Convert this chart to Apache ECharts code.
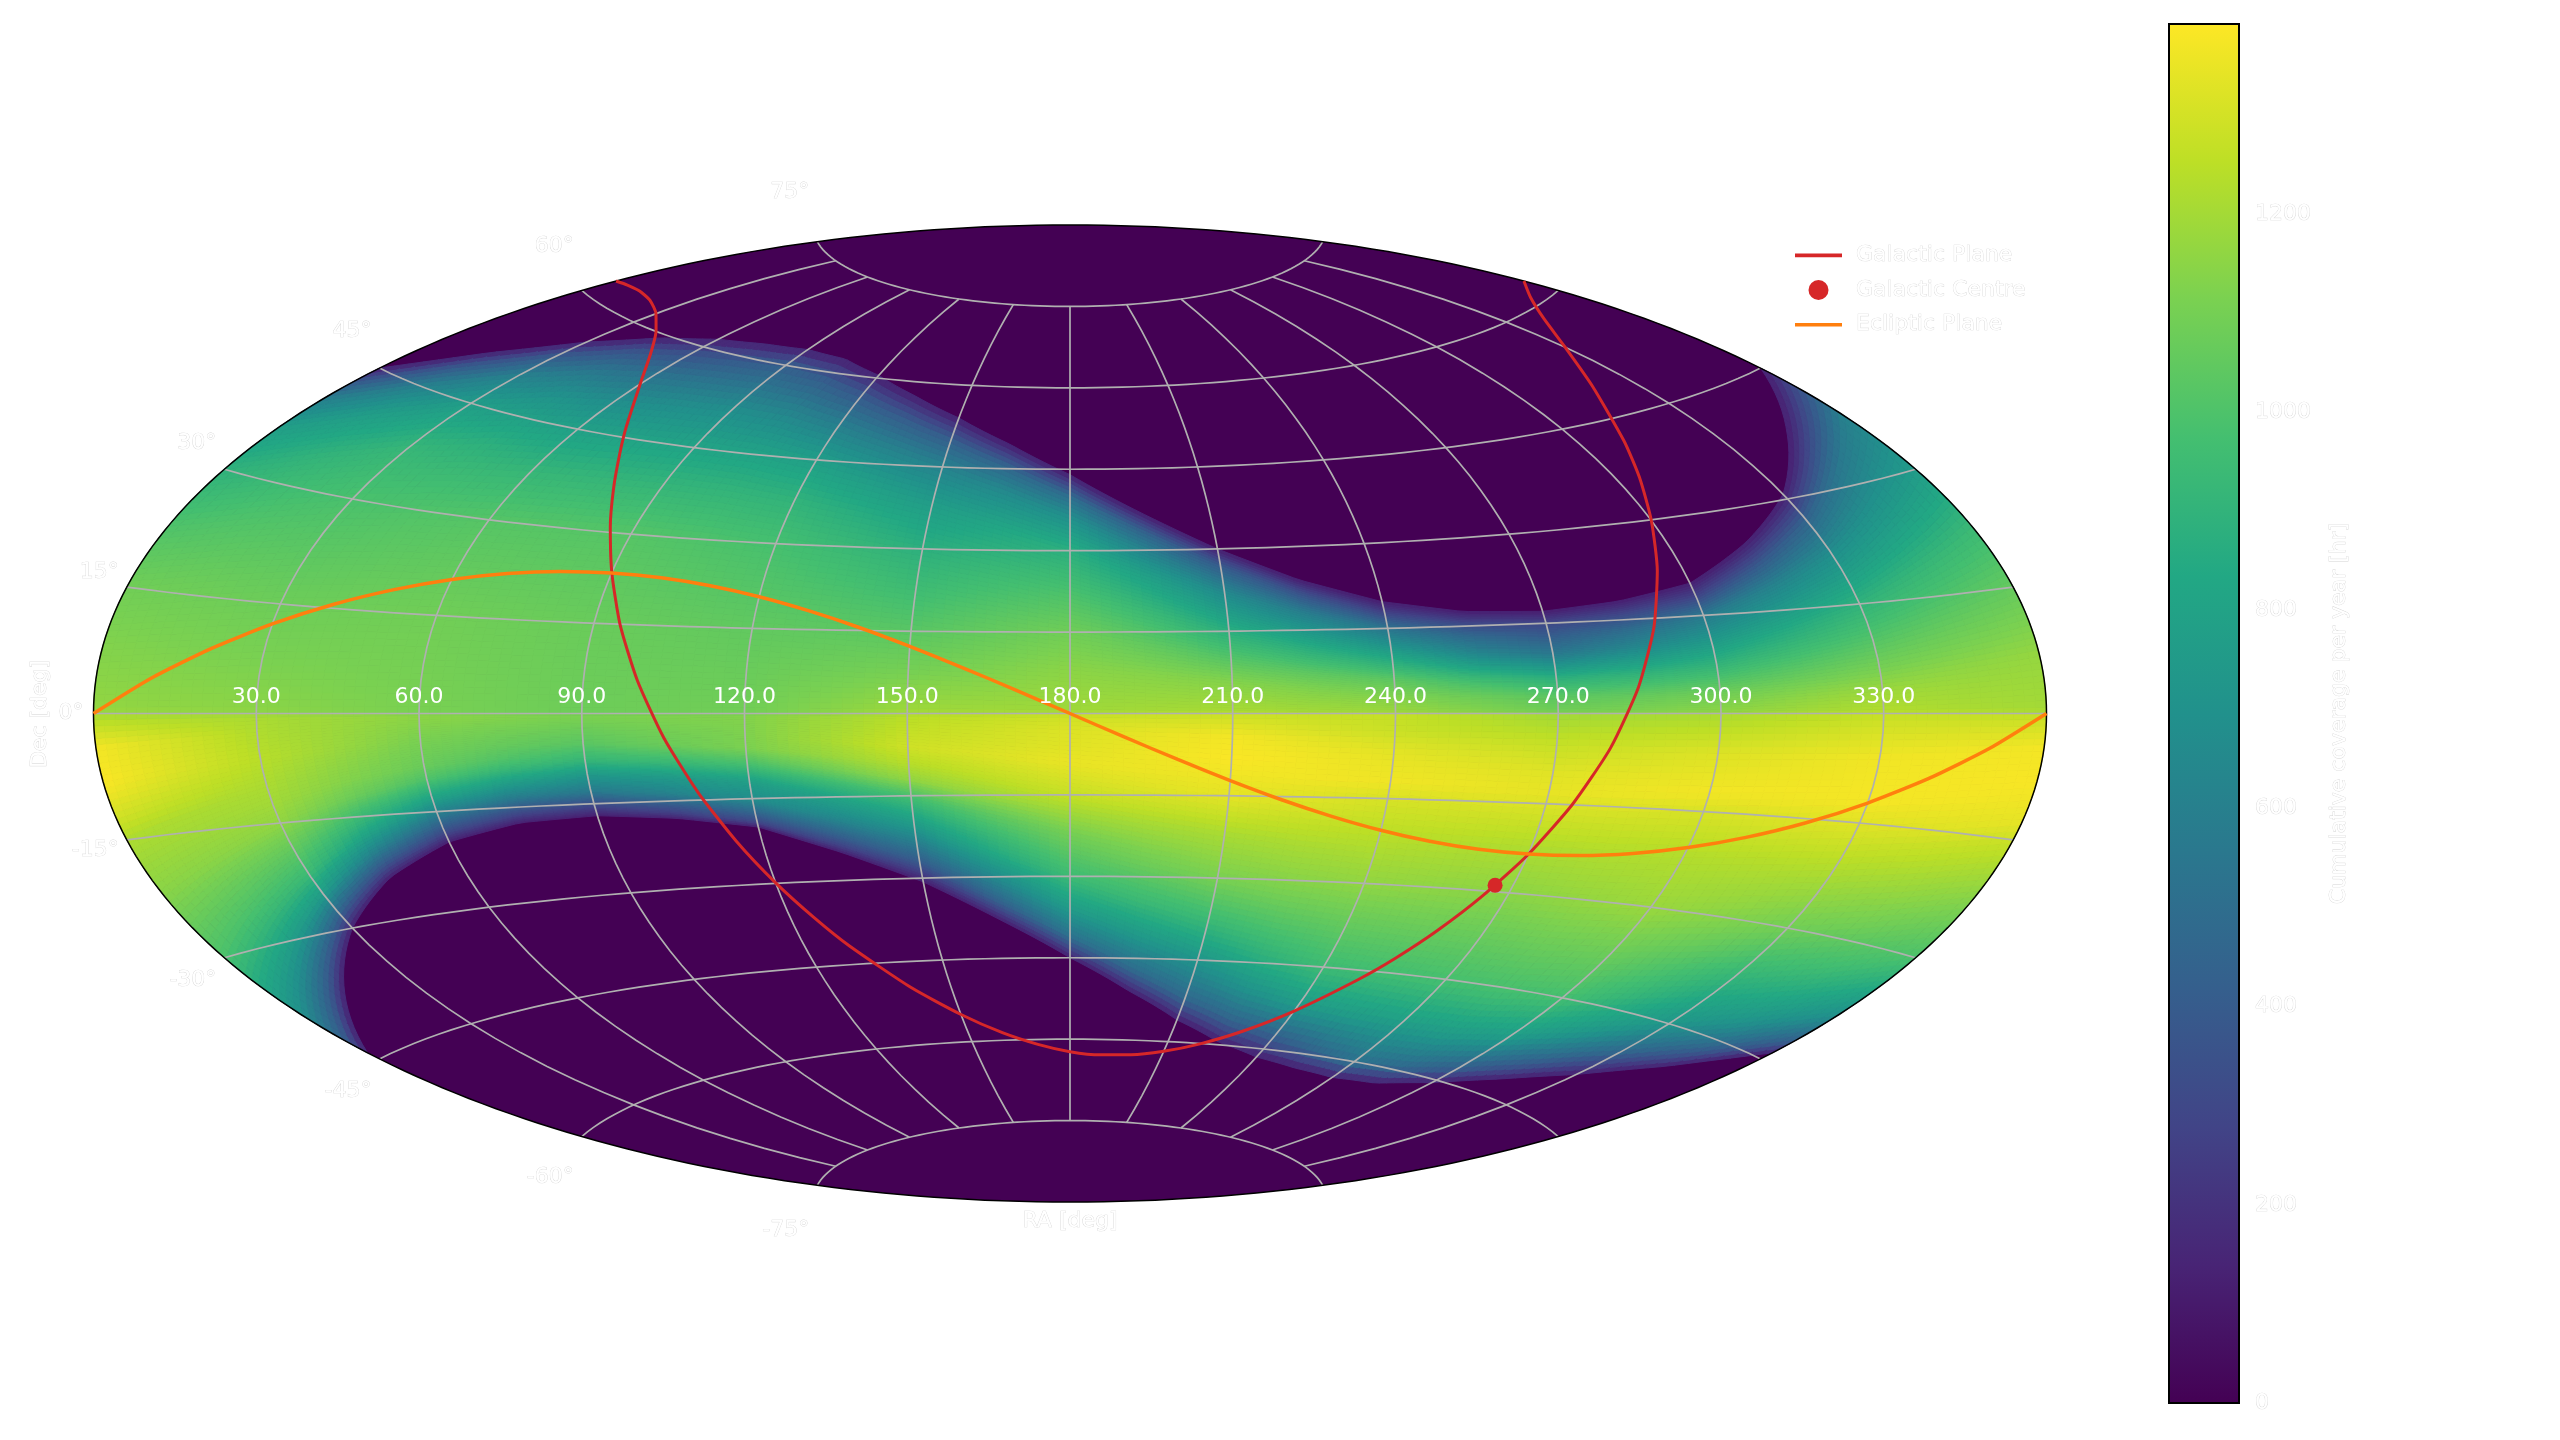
<!DOCTYPE html>
<html>
<head>
<meta charset="utf-8">
<title>Cumulative coverage per year</title>
<script src="https://cdn.jsdelivr.net/npm/echarts@6/dist/echarts.min.js"></script>
<style>
html, body { margin: 0; padding: 0; background: #fff; }
#chart { width: 2560px; height: 1440px; }
</style>
</head>
<body>
<div id="chart"></div>
<script>
// tick labels
var raTicks = [30, 60, 90, 120, 150, 180, 210, 240, 270, 300, 330];
var decTicks = [-75, -60, -45, -30, -15, 0, 15, 30, 45, 60, 75];
var colorbarTicks = [0, 200, 400, 600, 800, 1000, 1200];
var colorbarMax = 1392;

// edge of the covered band, read every 15 deg of RA
var edgeRa = [0, 15, 30, 45, 60, 75, 90, 105, 120, 135, 150, 165, 180, 195, 210, 225, 240, 255, 270, 285, 300, 315, 330, 345, 360];
var northEdge = [45, 51, 56, 59.5, 61.5, 62.5, 63, 62.5, 60.5, 57.5, 54, 49.5, 44, 37, 30, 24, 19.7, 17.5, 17, 18, 20, 25, 30.7, 38, 45];
var southEdge = [-44, -37, -30, -24, -19.7, -17.5, -17, -18, -20, -25, -30.7, -38, -45, -51, -56, -59.5, -61.5, -62.5, -63, -62.5, -60.5, -57.5, -54, -49.5, -44];

// coverage [hr]: one list of [dec, value] per RA column
var profileRa = [0, 30, 60, 90, 120, 150, 180, 210, 240, 270, 300, 330, 360];
var profiles = [
    [[-44,120],[-42,420],[-38,700],[-30,990],[-22,1140],[-15,1220],[-13,1280],[-10,1350],[-8,1385],[-4,1370],[-0.5,1230],[0.5,1165],[8,1130],[15,1090],[22,1010],[30,890],[36,770],[40,600],[43,370],[45,120]],
    [[-30,120],[-28,420],[-25,760],[-22,950],[-15,1160],[-12,1200],[-6,1245],[-0.5,1215],[0.5,1150],[8,1110],[15,1080],[30,990],[38,920],[45,770],[50,600],[54,360],[56,120]],
    [[-19.7,120],[-18,330],[-15,620],[-13,800],[-10,1000],[-8,1070],[-5,1100],[-0.5,1150],[0.5,1110],[15,1090],[30,1020],[38,920],[45,790],[50,680],[55,520],[59,340],[61.5,120]],
    [[-17,120],[-15,320],[-13,560],[-10.5,720],[-7.7,920],[-5,1030],[-0.5,1115],[0.5,1080],[15,1070],[30,1020],[38,920],[45,810],[52,680],[60,420],[63,120]],
    [[-20,120],[-19,300],[-15,680],[-12,780],[-9,970],[-6,1115],[-0.5,1130],[0.5,1090],[15,1050],[30,980],[38,900],[45,780],[52,580],[57,380],[60.5,120]],
    [[-30.7,120],[-27,400],[-21,720],[-15,980],[-12,1160],[-9,1240],[-6,1290],[-0.5,1245],[0.5,1190],[8,1100],[15,1030],[30,880],[38,770],[45,620],[50,420],[54,120]],
    [[-45,120],[-41,520],[-36,760],[-30,950],[-22,1100],[-15,1270],[-9,1350],[-6,1330],[-3,1320],[-0.5,1290],[0.5,1190],[8,1150],[15,1090],[22,1000],[30,880],[36,700],[40,500],[44,120]],
    [[-56,120],[-52,470],[-45,720],[-38,930],[-30,1110],[-22,1210],[-15,1340],[-8,1385],[-4,1370],[-0.5,1290],[0.5,1210],[6,1130],[15,880],[22,660],[27,400],[30,120]],
    [[-61.5,120],[-58,400],[-52,750],[-45,950],[-30,1160],[-23,1230],[-15,1310],[-12,1365],[-7,1340],[-3,1280],[-0.5,1270],[0.5,1180],[3,1130],[6,1040],[10,830],[15,540],[18,260],[19.7,120]],
    [[-63,120],[-60,520],[-52,800],[-45,980],[-30,1150],[-23,1215],[-15,1320],[-13,1345],[-10,1330],[-5,1270],[-3,1240],[-0.5,1200],[0.5,1090],[3,1030],[6,880],[10,560],[15,300],[17,120]],
    [[-60.5,120],[-58,400],[-52,760],[-45,975],[-30,1180],[-22,1230],[-15,1310],[-12,1370],[-6,1320],[-0.5,1220],[0.5,1150],[3,1090],[6,970],[10,800],[15,570],[18,280],[20,120]],
    [[-54,120],[-50,450],[-45,730],[-30,1090],[-15,1330],[-12,1375],[-6,1365],[-0.5,1280],[0.5,1230],[3,1190],[6,1110],[15,900],[22,690],[27,450],[30.7,120]],
    [[-44,120],[-42,420],[-38,700],[-30,990],[-15,1280],[-13,1340],[-8,1380],[-4,1370],[-0.5,1280],[0.5,1200],[7,1170],[15,1060],[22,950],[30,760],[38,600],[42,340],[45,120]]
];

// reference lines
var galacticRa = [0, 5, 10, 13, 20, 30, 40, 50, 60, 70, 75, 80, 85, 90, 95, 100, 105, 110, 115, 120, 125, 130, 140, 150, 160, 170, 180, 190, 200, 210, 220, 230, 240, 250, 255, 260, 265, 270, 275, 280, 285, 290, 295, 300, 305, 310, 320, 330, 340, 350, 360];
var galacticDec = [62.3, 62.65, 62.84, 62.87, 62.69, 61.8, 60.07, 57.28, 53, 46.6, 42.4, 37.2, 30.9, 23.5, 14.9, 5.56, -4.2, -13.6, -22.3, -29.9, -36.3, -41.7, -49.7, -55, -58.6, -60.9, -62.3, -62.84, -62.69, -61.8, -60.07, -57.28, -53, -46.6, -42.4, -37.2, -30.9, -23.5, -14.9, -5.56, 4.2, 13.6, 22.3, 29.9, 36.3, 41.7, 49.7, 55, 58.6, 60.9, 62.3];
var galacticCentre = [266.4, -28.94];
var eclipticRa = [0, 10, 20, 30, 40, 50, 60, 70, 80, 90, 100, 110, 120, 130, 140, 150, 160, 170, 180, 190, 200, 210, 220, 230, 240, 250, 260, 270, 280, 290, 300, 310, 320, 330, 340, 350, 360];
var eclipticDec = [0, 4.31, 8.43, 12.23, 15.58, 18.37, 20.58, 22.17, 23.13, 23.44, 23.13, 22.17, 20.58, 18.37, 15.58, 12.23, 8.43, 4.31, 0, -4.31, -8.43, -12.23, -15.58, -18.37, -20.58, -22.17, -23.13, -23.44, -23.13, -22.17, -20.58, -18.37, -15.58, -12.23, -8.43, -4.31, 0];

var viridis = ['#440154', '#482475', '#414487', '#355f8d', '#2a788e', '#21918c', '#22a884', '#44bf70', '#7ad151', '#bddf26', '#fde725'];
var FONT = '"DejaVu Sans"';
var GHOST = '#d4d4d4';   // the labels are white with only a faint grey fringe
// thin bar, the two empty subpaths keep the icon box from being stretched
var LINE_ICON = 'path://M0,0L47,0ZM0,8.2L47,8.2L47,11.8L0,11.8ZM0,20L47,20Z';

var DEG = Math.PI / 180;

// aitoff projection, gives axis units (x -180..180, y -90..90)
function aitoff(ra, dec) {
    var lam = (ra - 180) * DEG / 2;
    var phi = dec * DEG;
    var alpha = Math.acos(Math.cos(phi) * Math.cos(lam));
    var sinc = alpha < 1e-6 ? 1 : Math.sin(alpha) / alpha;
    return [2 * Math.cos(phi) * Math.sin(lam) / sinc / DEG, Math.sin(phi) / sinc / DEG];
}

function lerpList(xs, ys, x) {
    for (var i = 1; i < xs.length; i++) {
        if (x <= xs[i]) {
            return ys[i - 1] + (ys[i] - ys[i - 1]) * (x - xs[i - 1]) / (xs[i] - xs[i - 1]);
        }
    }
    return ys[ys.length - 1];
}

// u runs -1 (south edge) .. 0 (equator) .. 1 (north edge)
function decAt(ra, u) {
    return u < 0 ? -u * lerpList(edgeRa, southEdge, ra) : u * lerpList(edgeRa, northEdge, ra);
}

function profileAt(col, u) {
    var dec = decAt(profileRa[col], u);
    var p = profiles[col];
    if (dec <= p[0][0]) return p[0][1];
    for (var i = 1; i < p.length; i++) {
        if (dec <= p[i][0]) {
            return p[i - 1][1] + (p[i][1] - p[i - 1][1]) * (dec - p[i - 1][0]) / (p[i][0] - p[i - 1][0]);
        }
    }
    return p[p.length - 1][1];
}

function bandCorner(ra, u) {
    return aitoff(ra, decAt(ra, u));
}

function textStyle(text, size, align) {
    return { text: text, fill: '#fff', stroke: GHOST, lineWidth: 0.7, font: size + 'px ' + FONT, align: align, verticalAlign: 'middle' };
}

// one item per pair of read columns; the cells only shade between the two columns
function renderBand(params, api) {
    var col = api.value(0);
    var ra0 = profileRa[col], ra1 = profileRa[col + 1];
    var children = [];
    var raStep = 2, rows = 60;
    for (var ra = ra0; ra < ra1; ra += raStep) {
        var f = (ra + raStep / 2 - ra0) / (ra1 - ra0);
        for (var r = -rows; r < rows; r++) {
            var u0 = r / rows, u1 = (r + 1) / rows, um = (u0 + u1) / 2;
            var v = profileAt(col, um) * (1 - f) + profileAt(col + 1, um) * f;
            var c = echarts.color.lerp(v / colorbarMax, viridis);
            children.push({
                type: 'polygon',
                shape: { points: [
                    api.coord(bandCorner(ra, u0)), api.coord(bandCorner(ra + raStep, u0)),
                    api.coord(bandCorner(ra + raStep, u1)), api.coord(bandCorner(ra, u1))
                ] },
                style: { fill: c, stroke: c, lineWidth: 1 },
                silent: true
            });
        }
    }
    return { type: 'group', children: children };
}

function renderSky(params, api) {
    var pts = [];
    for (var d = -90; d <= 90; d += 1) pts.push(api.coord(aitoff(0, d)));
    for (d = 90; d >= -90; d -= 1) pts.push(api.coord(aitoff(360, d)));
    return { type: 'polygon', shape: { points: pts }, style: { fill: viridis[0], stroke: null }, silent: true };
}

function renderOutline(params, api) {
    var pts = [];
    for (var d = -90; d <= 90; d += 1) pts.push(api.coord(aitoff(0, d)));
    for (d = 90; d >= -90; d -= 1) pts.push(api.coord(aitoff(360, d)));
    return { type: 'polygon', shape: { points: pts }, style: { fill: 'none', stroke: '#000', lineWidth: 1.5 }, silent: true };
}

function renderGrid(params, api) {
    var children = [];
    var style = { fill: 'none', stroke: '#b0b0b0', lineWidth: 1.7 };
    raTicks.forEach(function (ra) {
        var pts = [];
        for (var d = -75; d <= 75; d += 2.5) pts.push(api.coord(aitoff(ra, d)));
        children.push({ type: 'polyline', shape: { points: pts }, style: style, silent: true });
    });
    decTicks.forEach(function (dec) {
        var pts = [];
        for (var ra = 0; ra <= 360; ra += 4) pts.push(api.coord(aitoff(ra, dec)));
        children.push({ type: 'polyline', shape: { points: pts }, style: style, silent: true });
    });
    return { type: 'group', children: children };
}

function renderTickLabels(params, api) {
    var children = [];
    raTicks.forEach(function (ra) {
        var p = api.coord(aitoff(ra, 0));
        children.push({ type: 'text', x: p[0], y: p[1] - 16, silent: true,
            style: { text: ra.toFixed(1), fill: '#fff', font: '22px ' + FONT, align: 'center', verticalAlign: 'middle' } });
    });
    decTicks.forEach(function (dec) {
        var e = aitoff(0, dec);
        // the labels sit a little outside the rim, as the reference has them
        var p = api.coord([e[0], e[1]]);
        var c = api.coord([0, 0]);
        var x = p[0] - 8, y = c[1] + (p[1] - c[1]) * 1.1 - 2;
        if (dec === 0) { x = p[0] - 10; y = c[1]; }
        children.push({ type: 'text', x: x, y: y, silent: true, style: textStyle(dec + '°', 22, 'right') });
    });
    return { type: 'group', children: children };
}

function renderColorbar(params, api) {
    var lo = api.coord([0, api.value(0)]);
    var hi = api.coord([1, api.value(1)]);
    var stops = viridis.map(function (c, i) { return { offset: i / (viridis.length - 1), color: c }; });
    return {
        type: 'rect',
        shape: { x: lo[0], y: hi[1], width: hi[0] - lo[0], height: lo[1] - hi[1] },
        style: { fill: new echarts.graphic.LinearGradient(0, 1, 0, 0, stops) },
        silent: true
    };
}

var bandItems = profileRa.slice(0, -1).map(function (ra, i) { return [i]; });

var chart = echarts.init(document.getElementById('chart'), null, { renderer: 'canvas' });

var option = {
    animation: false,
    backgroundColor: '#fff',
    grid: [
        { left: 93.5, right: 513.5, top: 225, bottom: 238 },
        { left: 2169, width: 70, top: 24, height: 1379, show: true, borderColor: '#000', borderWidth: 2, z: 5 }
    ],
    xAxis: [
        { gridIndex: 0, type: 'value', min: -180, max: 180, show: false },
        { gridIndex: 1, type: 'value', min: 0, max: 1, show: false }
    ],
    yAxis: [
        { gridIndex: 0, type: 'value', min: -90, max: 90, show: false },
        {
            gridIndex: 1, type: 'value', min: 0, max: colorbarMax, position: 'right',
            splitLine: { show: false },
            axisLine: { show: false },
            axisTick: { show: true, length: 7, customValues: colorbarTicks, lineStyle: { color: '#e4e4e4', width: 1.5 } },
            axisLabel: {
                customValues: colorbarTicks, margin: 16, fontFamily: FONT, fontSize: 22, padding: [3, 0, 0, 0],
                formatter: function (v) { return String(v); },
                color: '#fff', textBorderColor: GHOST, textBorderWidth: 0.7
            },
            name: 'Cumulative coverage per year [hr]', nameLocation: 'middle', nameRotate: 90, nameGap: 89,
            nameTextStyle: { fontFamily: FONT, fontSize: 22, color: '#fff', textBorderColor: GHOST, textBorderWidth: 0.7 }
        }
    ],
    legend: {
        left: 1790, top: 239, orient: 'vertical', itemWidth: 47, itemHeight: 20, itemGap: 12,
        data: [
            { name: 'Galactic Plane', icon: LINE_ICON },
            { name: 'Galactic Centre', icon: 'circle' },
            { name: 'Ecliptic Plane', icon: LINE_ICON }
        ],
        textStyle: { fontFamily: FONT, fontSize: 22, color: '#fff', textBorderColor: GHOST, textBorderWidth: 0.7, padding: [0, 0, 0, 9] }
    },
    graphic: [
        { type: 'text', x: 40, y: 714, rotation: Math.PI / 2, silent: true, style: textStyle('Dec [deg]', 22, 'center') },
        { type: 'text', x: 1070, y: 1221, silent: true, style: textStyle('RA [deg]', 22, 'center') }
    ],
    series: [
        { type: 'custom', xAxisIndex: 0, yAxisIndex: 0, z: 1, clip: false, renderItem: renderSky, data: [[0]] },
        { type: 'custom', xAxisIndex: 0, yAxisIndex: 0, z: 2, clip: false, renderItem: renderBand, data: bandItems },
        { type: 'custom', xAxisIndex: 0, yAxisIndex: 0, z: 3, clip: false, renderItem: renderGrid, data: [[0]] },
        { type: 'custom', xAxisIndex: 0, yAxisIndex: 0, z: 4, clip: false, renderItem: renderOutline, data: [[0]] },
        {
            name: 'Galactic Plane', type: 'line', xAxisIndex: 0, yAxisIndex: 0, z: 5, symbol: 'none', smooth: 0.2,
            lineStyle: { color: '#d62728', width: 3 }, itemStyle: { color: '#d62728' }, silent: true,
            data: galacticRa.map(function (ra, i) { return aitoff(ra, galacticDec[i]); })
        },
        {
            name: 'Galactic Centre', type: 'scatter', xAxisIndex: 0, yAxisIndex: 0, z: 6, symbolSize: 15,
            itemStyle: { color: '#d62728', opacity: 1 }, silent: true,
            data: [aitoff(galacticCentre[0], galacticCentre[1])]
        },
        {
            name: 'Ecliptic Plane', type: 'line', xAxisIndex: 0, yAxisIndex: 0, z: 7, symbol: 'none', smooth: 0.2,
            lineStyle: { color: '#ff7f0e', width: 3.5 }, itemStyle: { color: '#ff7f0e' }, silent: true,
            data: eclipticRa.map(function (ra, i) { return aitoff(ra, eclipticDec[i]); })
        },
        { type: 'custom', xAxisIndex: 0, yAxisIndex: 0, z: 8, clip: false, renderItem: renderTickLabels, data: [[0]] },
        {
            type: 'custom', xAxisIndex: 1, yAxisIndex: 1, z: 4, renderItem: renderColorbar,
            encode: { y: [0, 1] }, data: [[0, colorbarMax]]
        }
    ]
};

chart.setOption(option);
</script>
</body>
</html>
